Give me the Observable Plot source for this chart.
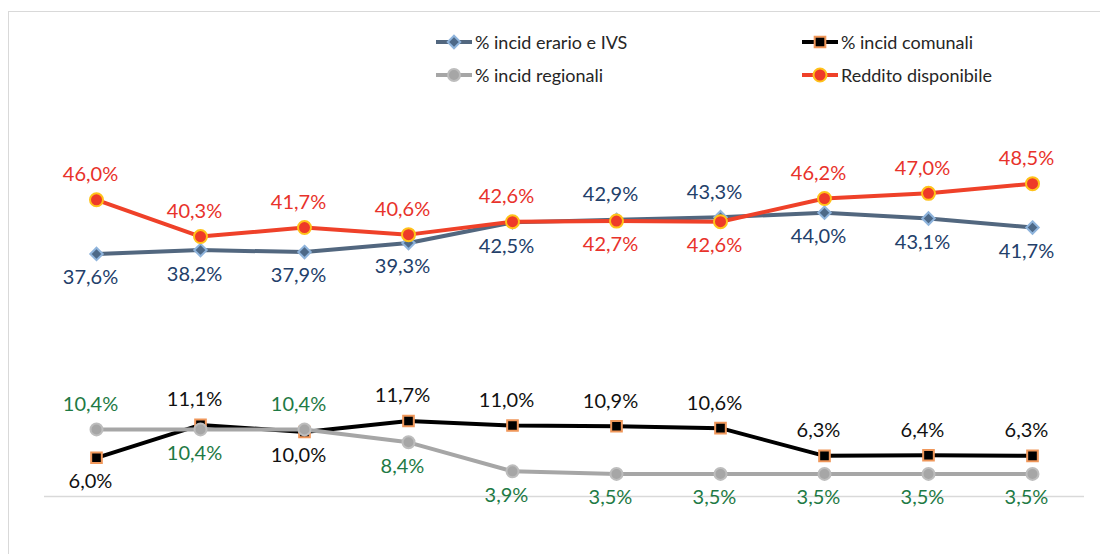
<!DOCTYPE html>
<html><head><meta charset="utf-8">
<script src="https://cdn.jsdelivr.net/npm/d3@7"></script>
<script src="https://cdn.jsdelivr.net/npm/@observablehq/plot@0.6"></script>
<style>
body{margin:0;background:#fff;font-family:Lato,sans-serif;}
#wrap{position:relative;width:1100px;height:554px;overflow:hidden;}
#frame{position:absolute;left:8px;top:11px;width:1200px;height:700px;border-top:1.5px solid #d9d9d9;border-left:1.5px solid #d9d9d9;}
#legend{position:relative;height:95px;}
#chart{position:relative;}
.item{position:absolute;display:flex;align-items:center;height:20px;font-size:18px;color:#262626;white-space:nowrap;}
.item svg{margin-right:1px;}
</style></head><body>
<div id="wrap"><div id="frame"></div><div id="legend"></div><div id="chart"></div></div>
<script>
const periods = ["P1","P2","P3","P4","P5","P6","P7","P8","P9","P10"];
const erario    = [37.6, 38.2, 37.9, 39.3, 42.5, 42.9, 43.3, 44.0, 43.1, 41.7];
const comunali  = [6.0, 11.1, 10.0, 11.7, 11.0, 10.9, 10.6, 6.3, 6.4, 6.3];
const regionali = [10.4, 10.4, 10.4, 8.4, 3.9, 3.5, 3.5, 3.5, 3.5, 3.5];
const reddito   = [46.0, 40.3, 41.7, 40.6, 42.6, 42.7, 42.6, 46.2, 47.0, 48.5];
const seriesNames = ["% incid erario e IVS", "% incid comunali", "% incid regionali", "Reddito disponibile"];

const series = [
  {name: seriesNames[0], values: erario, pair: reddito, line:"#52677f", symbol:"diamond2", r:5.6, fill:"#4d6988", mstroke:"#8fb4dc", label:"#23406a"},
  {name: seriesNames[1], values: comunali, pair: regionali, line:"#000000", symbol:"square", r:6, fill:"#000000", mstroke:"#f0975a", label:"#111111"},
  {name: seriesNames[2], values: regionali, pair: comunali, line:"#a6a6a6", symbol:"circle", r:6, fill:"#a6a6a6", mstroke:"#bdbdbd", label:"#1e7a45"},
  {name: seriesNames[3], values: reddito, pair: erario, line:"#ef4129", symbol:"circle", r:6.5, fill:"#ee3a28", mstroke:"#ffc21a", label:"#e8322b"}
];

const fmt = v => v.toFixed(1).replace(".", ",") + "%";

// Legend
const legend = document.getElementById("legend");
const legendSlots = [[436, 32], [802, 32], [436, 65], [802, 65]];
series.forEach((s, k) => {
  const div = document.createElement("div");
  div.className = "item";
  div.style.left = legendSlots[k][0] + "px";
  div.style.top = legendSlots[k][1] + "px";
  const sym = d3.symbol(s.symbol === "diamond2" ? d3.symbolDiamond2 : s.symbol === "square" ? d3.symbolSquare : d3.symbolCircle, s.r * s.r * Math.PI)();
  div.innerHTML = `<svg width="38" height="20"><line x1="0" x2="36" y1="10" y2="10" stroke="${s.line}" stroke-width="4"/><path d="${sym}" transform="translate(18,10)" fill="${s.fill}" stroke="${s.mstroke}" stroke-width="2"/></svg><span>${s.name}</span>`;
  legend.appendChild(div);
});

const marks = [Plot.ruleY([0], {stroke:"#d9d9d9", strokeWidth:1.5})];
series.forEach(s => {
  const rows = s.values.map((v, i) => ({period: periods[i], value: v, above: v > s.pair[i]}));
  marks.push(Plot.line(rows, {x:"period", y:"value", stroke:s.line, strokeWidth:4}));
  marks.push(Plot.dot(rows, {x:"period", y:"value", symbol:s.symbol, r:s.r, fill:s.fill, stroke:s.mstroke, strokeWidth:2}));
  s.rows = rows;
});
series.forEach(s => {
  marks.push(Plot.text(s.rows.filter(d => d.above), {x:"period", y:"value", text: d => fmt(d.value), fill:s.label, dy:-25, dx:-6, fontSize:20, lineAnchor:"middle"}));
  marks.push(Plot.text(s.rows.filter(d => !d.above), {x:"period", y:"value", text: d => fmt(d.value), fill:s.label, dy:24, dx:-6, fontSize:20, lineAnchor:"middle"}));
});

const chart = Plot.plot({
  width: 1100, height: 459,
  marginLeft: 44, marginRight: 16, marginTop: 14, marginBottom: 58,
  x: {type:"point", domain: periods, padding: 0.5, axis: null},
  y: {domain:[0, 60], axis: null},
  style: {background:"transparent", fontFamily:"Lato, sans-serif"},
  marks
});
document.getElementById("chart").appendChild(chart);
</script>
</body></html>
